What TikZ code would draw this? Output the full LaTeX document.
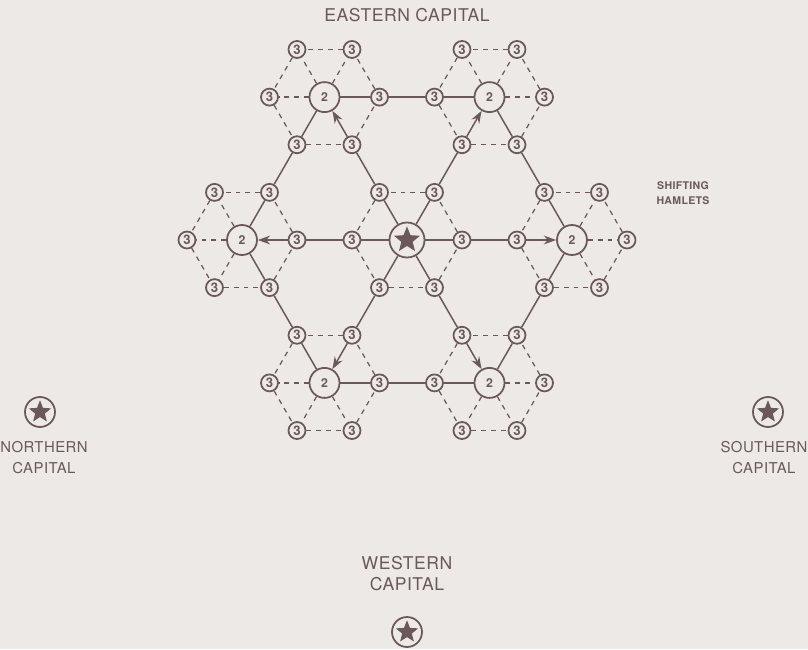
\documentclass[tikz,border=0pt]{standalone}
\usepackage{fontspec}
\setsansfont{TeX Gyre Heros}[LetterSpace=3]
\usetikzlibrary{arrows.meta, shapes.geometric}

\definecolor{ink}{HTML}{6A585B}
\definecolor{paper}{HTML}{ECE9E6}

\begin{document}
\begin{tikzpicture}[
    every node/.style={font=\sffamily, text=ink},
    hamlet/.style={draw=ink,circle,line width=1pt,minimum size=0.34cm,inner sep=0pt,font=\sffamily\bfseries\fontsize{7.5}{7.5}\selectfont},
    village/.style={draw=ink,circle,line width=1pt,minimum size=0.6cm,inner sep=0pt,font=\sffamily\bfseries\fontsize{7}{7}\selectfont},
    capital/.style={draw=ink,circle,line width=1pt,minimum size=#1,inner sep=0pt,
        path picture={\node[star,star points=5,star point ratio=2.3,fill=ink,draw=none,minimum size=0.78*#1,inner sep=0pt] at (path picture bounding box.center) {};}},
    capname/.style={font=\sffamily\fontsize{10}{12}\selectfont,align=center},
    sidename/.style={font=\sffamily\fontsize{8.5}{12}\selectfont,align=center},
    road/.style={draw=ink,line width=0.85pt},
    track/.style={draw=ink,line width=0.7pt,dash pattern=on 2.8pt off 2.8pt},
    march/.style={road,-{Stealth[length=7pt,width=5pt]}}
]
\path[use as bounding box,fill=paper] (-8.14,-8.18) rectangle (8.02,4.8);

\node[capital=0.7cm] (c) at (0,0) {};
\foreach \j in {0,...,5}
    \node[hamlet] (s\j) at (60*\j:1.1) {3};
\foreach \i in {0,...,5} {
    \node[village] (v\i) at (60*\i:3.3) {2};
    \foreach \j in {0,...,5}
        \path (v\i) ++(60*\j:1.1) node[hamlet] (h\i\j) {3};
}

\foreach \j in {0,...,5} {
    \pgfmathtruncatemacro{\k}{mod(\j+1,6)}
    \draw[road] (c) -- (s\j);
    \draw[track] (s\j) -- (s\k);
}
\foreach \i in {0,...,5} {
    \pgfmathtruncatemacro{\o}{mod(\i+3,6)}
    \pgfmathtruncatemacro{\a}{mod(\i+2,6)}
    \pgfmathtruncatemacro{\n}{mod(\i+1,6)}
    \pgfmathtruncatemacro{\b}{mod(\i+5,6)}
    \draw[road] (s\i) -- (h\i\o);
    \draw[march] (h\i\o) -- (v\i);
    \draw[road] (v\i) -- (h\i\a);
    \draw[road] (h\i\a) -- (h\n\b);
    \draw[road] (h\n\b) -- (v\n);
    \draw[track] (v\i) -- (h\i\i);
    \draw[track] (v\i) -- (h\i\n);
    \draw[track] (v\i) -- (h\i\b);
    \foreach \j in {0,...,5} {
        \pgfmathtruncatemacro{\k}{mod(\j+1,6)}
        \draw[track] (h\i\j) -- (h\i\k);
    }
}

\node[capname] (eastlbl) at (0,4.5) {EASTERN CAPITAL};
\node[font=\sffamily\bfseries\fontsize{6}{8.5}\selectfont,align=center] (hamletlbl) at (5.52,0.93) {SHIFTING\\HAMLETS};
\node[capital=0.6cm] (north) at (-7.34,-3.44) {};
\node[sidename] (northlbl) at (-7.26,-4.35) {NORTHERN\\CAPITAL};
\node[capital=0.6cm] (south) at (7.22,-3.44) {};
\node[sidename] (southlbl) at (7.14,-4.35) {SOUTHERN\\CAPITAL};
\node[capname] (westlbl) at (0,-6.68) {WESTERN\\CAPITAL};
\node[capital=0.6cm] (west) at (0,-7.84) {};
\end{tikzpicture}
\end{document}
